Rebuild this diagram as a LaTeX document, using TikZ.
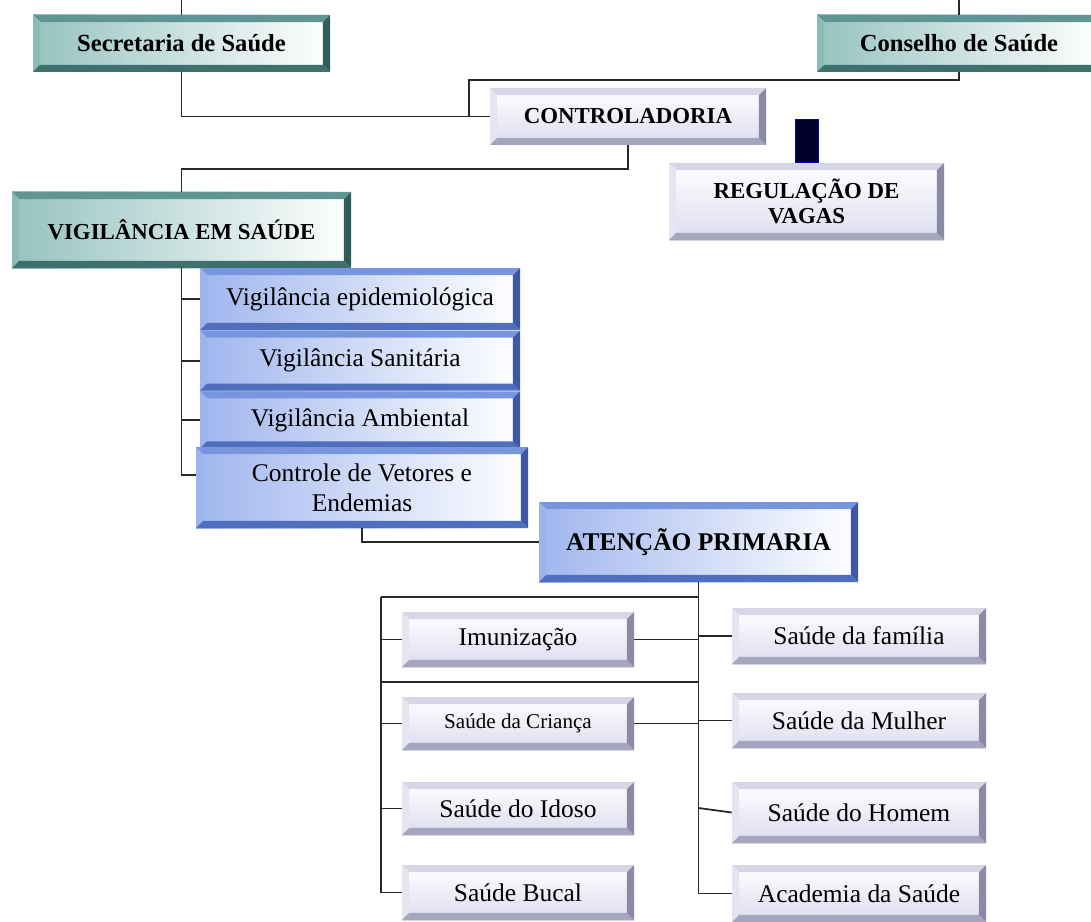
\documentclass[tikz,border=0pt]{standalone}
\usepackage{fontspec}
\setmainfont{Liberation Serif}
\usepackage{xcolor}
\definecolor{tealtop}{RGB}{95,150,148}
\definecolor{tealleft}{RGB}{140,186,183}
\definecolor{tealbot}{RGB}{62,112,110}
\definecolor{tealright}{RGB}{48,92,90}
\definecolor{tealface}{RGB}{150,195,192}
\definecolor{bluetop}{RGB}{120,150,222}
\definecolor{blueleft}{RGB}{155,180,238}
\definecolor{bluebot}{RGB}{80,110,190}
\definecolor{blueright}{RGB}{62,88,165}
\definecolor{blueface}{RGB}{160,182,238}
\definecolor{lilactop}{RGB}{214,214,232}
\definecolor{lilacleft}{RGB}{228,228,242}
\definecolor{lilacbot}{RGB}{165,165,190}
\definecolor{lilacright}{RGB}{138,138,162}
\definecolor{lilacface}{RGB}{220,220,240}
\definecolor{navyfill}{RGB}{0,0,40}
\definecolor{linkgray}{RGB}{40,40,40}
\usepackage{tikz}
\usetikzlibrary{positioning}

% bevel frame drawn inside a node
\newlength\bvw \setlength\bvw{4pt}
\newcommand\bevelframe[4]{%
  \coordinate (pnw) at (path picture bounding box.north west);
  \coordinate (pne) at (path picture bounding box.north east);
  \coordinate (pse) at (path picture bounding box.south east);
  \coordinate (psw) at (path picture bounding box.south west);
  \fill[#1] (pnw) -- (pne) -- ([shift={(-\bvw,-\bvw)}]pne) -- ([shift={(\bvw,-\bvw)}]pnw) -- cycle;
  \fill[#2] (pnw) -- ([shift={(\bvw,-\bvw)}]pnw) -- ([shift={(\bvw,\bvw)}]psw) -- (psw) -- cycle;
  \fill[#3] (psw) -- ([shift={(\bvw,\bvw)}]psw) -- ([shift={(-\bvw,\bvw)}]pse) -- (pse) -- cycle;
  \fill[#4] (pse) -- ([shift={(-\bvw,\bvw)}]pse) -- ([shift={(-\bvw,-\bvw)}]pne) -- (pne) -- cycle;
}

\tikzset{
  sz/.style 2 args={minimum width=#1*0.02cm, minimum height=#2*0.02cm},
  box/.style={rectangle, inner sep=0pt, align=center, font=\fontsize{14.5}{17}\selectfont},
  tealbox/.style={box, left color=tealface, right color=white,
    path picture={\bevelframe{tealtop}{tealleft}{tealbot}{tealright}},
    font=\bfseries\fontsize{14}{16}\selectfont},
  bluebox/.style={box, left color=blueface, right color=white,
    path picture={\bevelframe{bluetop}{blueleft}{bluebot}{blueright}}},
  lilacbox/.style={box, top color=white, bottom color=lilacface,
    path picture={\bevelframe{lilactop}{lilacleft}{lilacbot}{lilacright}}},
  title/.style={font=\bfseries\fontsize{13}{14}\selectfont},
  link/.style={draw=linkgray, line width=1pt}
}

\begin{document}
\begin{tikzpicture}[x=0.02cm, y=-0.02cm]
\useasboundingbox (0,0) rectangle (1091,922);

% Top level
\node[tealbox, sz={297}{57}] (sec) at (181.5,43.5) {Secretaria de Saúde};
\node[tealbox, sz={284}{57}] (cons) at (959,43.5) {Conselho de Saúde};
\node[lilacbox, title, sz={276}{57}] (ctrl) at (628,116.5) {CONTROLADORIA};
\node[lilacbox, title, sz={275}{77}] (reg) at (806.5,201.5) {REGULAÇÃO DE\\VAGAS};
\node[draw=blue!80!black, fill=navyfill, inner sep=0pt, sz={23}{43}, above=0pt of reg] (navy) {};

% Vigilancia
\node[tealbox, font=\bfseries\fontsize{13}{14}\selectfont, sz={339}{76}] (vig) at (181.5,230) {VIGILÂNCIA EM SAÚDE};
\node[bluebox, sz={320}{62}] (epi) at (360,299) {Vigilância epidemiológica};
\node[bluebox, sz={320}{60}, below=0pt of epi] (san) {Vigilância Sanitária};
\node[bluebox, sz={320}{57}, below=0pt of san] (amb) {Vigilância Ambiental};
\node[bluebox, sz={332}{81}] (vet) at (362,487.5) {Controle de Vetores e\\Endemias};

% Atencao primaria
\node[bluebox, font=\bfseries\fontsize{14.5}{17}\selectfont, sz={319}{80}] (aten) at (698.5,542) {ATENÇÃO PRIMARIA};
\node[lilacbox, sz={232}{55}] (imu) at (518,639.5) {Imunização};
\node[lilacbox, font=\fontsize{12}{14}\selectfont, sz={232}{53}] (cri) at (518,723.5) {Saúde da Criança};
\node[lilacbox, sz={232}{53}] (ido) at (518,808.5) {Saúde do Idoso};
\node[lilacbox, sz={232}{55}] (buc) at (518,892.5) {Saúde Bucal};
\node[lilacbox, sz={254}{56}] (fam) at (859,636) {Saúde da família};
\node[lilacbox, sz={254}{55}] (mul) at (859,720.5) {Saúde da Mulher};
\node[lilacbox, sz={254}{61}] (hom) at (859,812.5) {Saúde do Homem};
\node[lilacbox, sz={254}{57}] (aca) at (859,893.5) {Academia da Saúde};

% Connectors, top
\coordinate (sectop) at (181.5,0);
\coordinate (constop) at (959,0);
\coordinate (cj) at (469,80);
\coordinate (vj) at (181.5,169);
\draw[link] (sec.north) -- (sectop);
\draw[link] (cons.north) -- (constop);
\draw[link] (sec.south) |- (ctrl.west);
\draw[link] (cons.south) |- (cj) |- (ctrl.west);
\draw[link] (ctrl.south) |- (vj) -- (vig.north);

% Connectors, vigilancia
\foreach \n in {epi,san,amb} {
  \draw[link] (vig.south) |- (\n.west);
}
\draw[link] (vig.south) |- ([yshift=7pt]vet.west);
\draw[link] (vet.south) |- (aten.west);

% Connectors, atencao primaria
\coordinate (lj) at (381,597);
\coordinate (mj) at (381,682);
\coordinate (hj) at (698.5,808);
\draw[link] (aten.south) |- (lj);
\draw[link] (mj) -- (mj -| aten.south);
\foreach \n in {imu,cri,ido,buc} {
  \draw[link] (lj) |- (\n.west);
}
\foreach \n in {fam,mul,aca} {
  \draw[link] (aten.south) |- (\n.west);
}
\draw[link] (hj) -- (hom.west);
\draw[link] (imu.east) -- (imu.east -| aten.south);
\draw[link] (cri.east) -- (cri.east -| aten.south);

\end{tikzpicture}
\end{document}
